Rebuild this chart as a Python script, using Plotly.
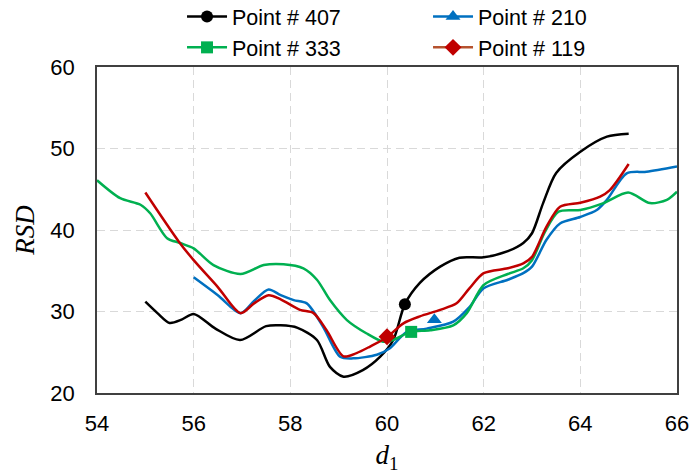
import plotly.graph_objects as go

# Point # 407 (black)
x407 = [55, 55.25, 55.5, 55.75, 56, 56.45, 56.96, 57.5, 57.8, 58.15, 58.55, 58.82, 59.1, 59.5, 59.86, 60.13, 60.37, 60.68, 61.1, 61.5, 62.0, 62.5, 62.82, 63.0, 63.23, 63.5, 64.0, 64.55, 65.0]
y407 = [31.2, 29.8, 28.6, 29.0, 29.7, 27.9, 26.5, 28.2, 28.3, 28.0, 26.5, 23.2, 22.0, 22.8, 24.45, 26.5, 30.9, 33.5, 35.5, 36.6, 36.65, 37.4, 38.4, 39.6, 43.3, 47.0, 49.6, 51.45, 51.8]

# Point # 210 (blue)
x210 = [56.0, 56.5, 56.97, 57.25, 57.55, 57.8, 58.07, 58.34, 58.68, 59.03, 59.3, 59.79, 60.06, 60.41, 60.82, 61.37, 61.7, 62.0, 62.5, 62.82, 63.0, 63.3, 63.58, 64.0, 64.34, 64.55, 64.96, 65.37, 66.0]
y210 = [34.2, 32.0, 29.8, 31.3, 32.7, 32.0, 31.4, 31.0, 28.1, 24.45, 24.25, 24.7, 25.5, 27.5, 27.9, 28.75, 30.5, 32.85, 33.9, 34.7, 35.5, 38.8, 40.8, 41.6, 42.45, 43.7, 46.95, 47.15, 47.8]

# Point # 333 (green)
x333 = [54.0, 54.48, 54.9, 55.1, 55.45, 55.72, 56.0, 56.41, 56.97, 57.45, 57.86, 58.27, 58.55, 58.82, 59.17, 59.58, 59.92, 60.13, 60.48, 60.89, 61.37, 61.65, 62.0, 62.5, 62.82, 63.0, 63.27, 63.55, 64.0, 64.48, 64.99, 65.44, 65.79, 66.0]
y333 = [46.1, 43.9, 43.1, 42.05, 39.0, 38.4, 37.75, 35.7, 34.6, 35.7, 35.8, 35.3, 33.9, 31.4, 28.95, 27.3, 26.3, 26.5, 27.5, 27.7, 28.3, 29.8, 33.25, 34.6, 35.3, 36.3, 39.8, 42.25, 42.45, 43.3, 44.6, 43.3, 43.7, 44.7]

# Point # 119 (red)
x119 = [55.0, 55.69, 56.0, 56.5, 56.97, 57.25, 57.55, 57.8, 58.2, 58.48, 58.75, 59.1, 59.37, 59.65, 59.99, 60.34, 60.68, 61.1, 61.44, 61.7, 62.0, 62.5, 62.82, 63.0, 63.3, 63.58, 64.0, 64.41, 64.61, 65.0]
y119 = [44.6, 38.6, 36.3, 33.0, 29.8, 31.0, 32.0, 31.5, 30.2, 29.8, 27.7, 24.5, 24.9, 25.7, 26.8, 28.55, 29.4, 30.2, 31.0, 32.8, 34.7, 35.3, 35.9, 36.7, 40.4, 42.85, 43.35, 44.1, 44.9, 48.1]

# highlighted points
names = ["Point # 407", "Point # 210", "Point # 333", "Point # 119"]
mark_x = [60.37, 60.98, 60.5, 60.0]
mark_y = [30.9, 29.0, 27.5, 26.9]
symbols = ["circle", "triangle-up", "square", "diamond"]
line_colors = ["#000000", "#0070C0", "#00B050", "#C00000"]
legend_line_colors = ["#000000", "#0070C0", "#00B050", "#B5532F"]
marker_colors = ["#000000", "#0070C0", "#00B050", "#C00000"]
marker_sizes = [12, 13, 12, 13]

xticks = [54, 56, 58, 60, 62, 64, 66]
yticks = [20, 30, 40, 50, 60]

series = [(x407, y407), (x210, y210), (x333, y333), (x119, y119)]

fig = go.Figure()
for i in range(4):
    xs, ys = series[i]
    fig.add_trace(go.Scatter(x=xs, y=ys, mode="lines", line=dict(color=line_colors[i], width=2.5, shape="spline", smoothing=0.8),
                             showlegend=False, hoverinfo="skip"))
for i in range(4):
    fig.add_trace(go.Scatter(x=[mark_x[i]], y=[mark_y[i]], mode="lines+markers", name=names[i],
                             line=dict(color=legend_line_colors[i], width=2.5),
                             marker=dict(symbol=symbols[i], size=marker_sizes[i], color=marker_colors[i])))

axis_common = dict(showgrid=True, gridcolor="#d9d9d9", gridwidth=1, griddash="8px,5px",
                   showline=True, linecolor="#404040", linewidth=1.5, mirror=True,
                   ticks="", zeroline=False, automargin=False,
                   tickfont=dict(family="Liberation Sans, Arial", size=22, color="#000000"))

fig.update_xaxes(range=[54, 66], tickvals=xticks, ticktext=[str(v) for v in xticks],
                 title=dict(text="<i>d</i><sub>1</sub>", font=dict(family="Liberation Serif, Times New Roman", size=27, color="#000000"), standoff=11),
                 ticklabelstandoff=10, **axis_common)
fig.update_yaxes(range=[20, 60], tickvals=yticks, ticktext=[str(v) for v in yticks],
                 title=dict(text="<i>RSD</i>", font=dict(family="Liberation Serif, Times New Roman", size=27, color="#000000"), standoff=8),
                 ticklabelstandoff=16, **axis_common)

fig.update_layout(
    width=697, height=474,
    margin=dict(l=97, r=20, t=67, b=81, autoexpand=False),
    plot_bgcolor="#ffffff", paper_bgcolor="#ffffff",
    legend=dict(orientation="h", x=0.1466, xanchor="left", y=1.218, yanchor="top",
                entrywidth=191, entrywidthmode="pixels",
                font=dict(family="Liberation Sans, Arial", size=21.5, color="#000000"),
                itemwidth=40, tracegroupgap=0, bgcolor="rgba(0,0,0,0)"),
)

fig.write_html("out.html")
